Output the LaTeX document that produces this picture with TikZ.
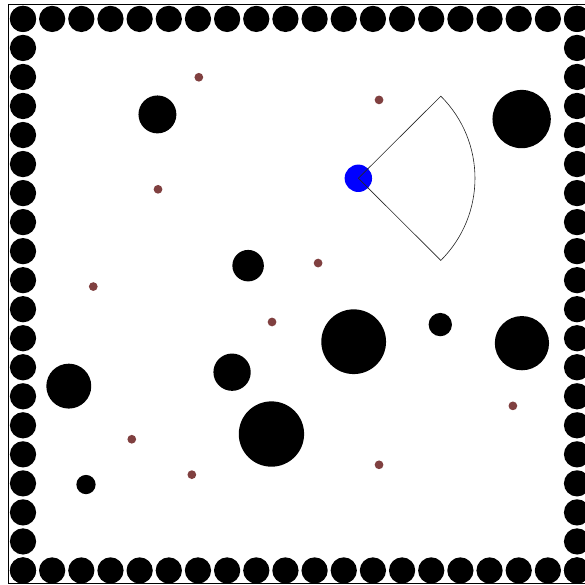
\documentclass[tikz,border=0pt]{standalone}
\usepackage{tikz}
\definecolor{goalbrown}{RGB}{128,64,64}

\begin{document}
\begin{tikzpicture}[
 x=1cm,y=0.9955cm,
 wall/.style={circle,fill=black,inner sep=0pt,minimum size=0.9cm},
 obstacle/.style={circle,fill=black,inner sep=0pt},
 goal/.style={circle,fill=goalbrown,inner sep=0pt,minimum size=0.3cm},
 robot/.style={circle,fill=blue,inner sep=0pt,minimum size=0.94cm},
 fov/.style={draw=black!85,line width=0.6pt}]
 \useasboundingbox (-0.789,-0.4995) rectangle (19.273,19.652);
 \clip (-0.789,-0.4995) rectangle (19.273,19.652);
 \draw[line width=0.8pt] (-0.51,-0.44) rectangle (19.6,19.51);
 % walls round the map
 \foreach \i in {0,...,19}{
   \node[wall] (wallB\i) at (\i,0) {};
   \node[wall] (wallT\i) at (\i,19) {};
   \node[wall] (wallL\i) at (0,\i) {};
   \node[wall] (wallR\i) at (19,\i) {};
 }
 % obstacles
 \node[obstacle,minimum size=1.30cm] (obsA) at (4.61,15.71) {};
 \node[obstacle,minimum size=2.00cm] (obsB) at (17.10,15.55) {};
 \node[obstacle,minimum size=1.08cm] (obsC) at (7.72,10.50) {};
 \node[obstacle,minimum size=0.80cm] (obsD) at (14.31,8.47) {};
 \node[obstacle,minimum size=2.22cm] (obsE) at (11.34,7.88) {};
 \node[obstacle,minimum size=1.86cm] (obsF) at (17.11,7.83) {};
 \node[obstacle,minimum size=1.54cm] (obsG) at (1.57,6.35) {};
 \node[obstacle,minimum size=1.28cm] (obsH) at (7.17,6.83) {};
 \node[obstacle,minimum size=2.24cm] (obsI) at (8.52,4.70) {};
 \node[obstacle,minimum size=0.66cm] (obsJ) at (2.16,2.96) {};
 % goals
 \node[goal] (goalA) at (6.03,16.99) {};
 \node[goal] (goalB) at (12.21,16.21) {};
 \node[goal] (goalC) at (4.63,13.13) {};
 \node[goal] (goalD) at (10.12,10.59) {};
 \node[goal] (goalE) at (2.41,9.78) {};
 \node[goal] (goalF) at (8.54,8.56) {};
 \node[goal] (goalG) at (16.80,5.67) {};
 \node[goal] (goalH) at (3.73,4.52) {};
 \node[goal] (goalI) at (5.79,3.30) {};
 \node[goal] (goalJ) at (12.21,3.64) {};
 % robot and its field of view
 \node[robot] (robot) at (11.50,13.51) {};
 \draw[fov] (robot.center) -- ++(45:4)
   arc[start angle=45,end angle=-45,radius=4] -- cycle;
\end{tikzpicture}
\end{document}
